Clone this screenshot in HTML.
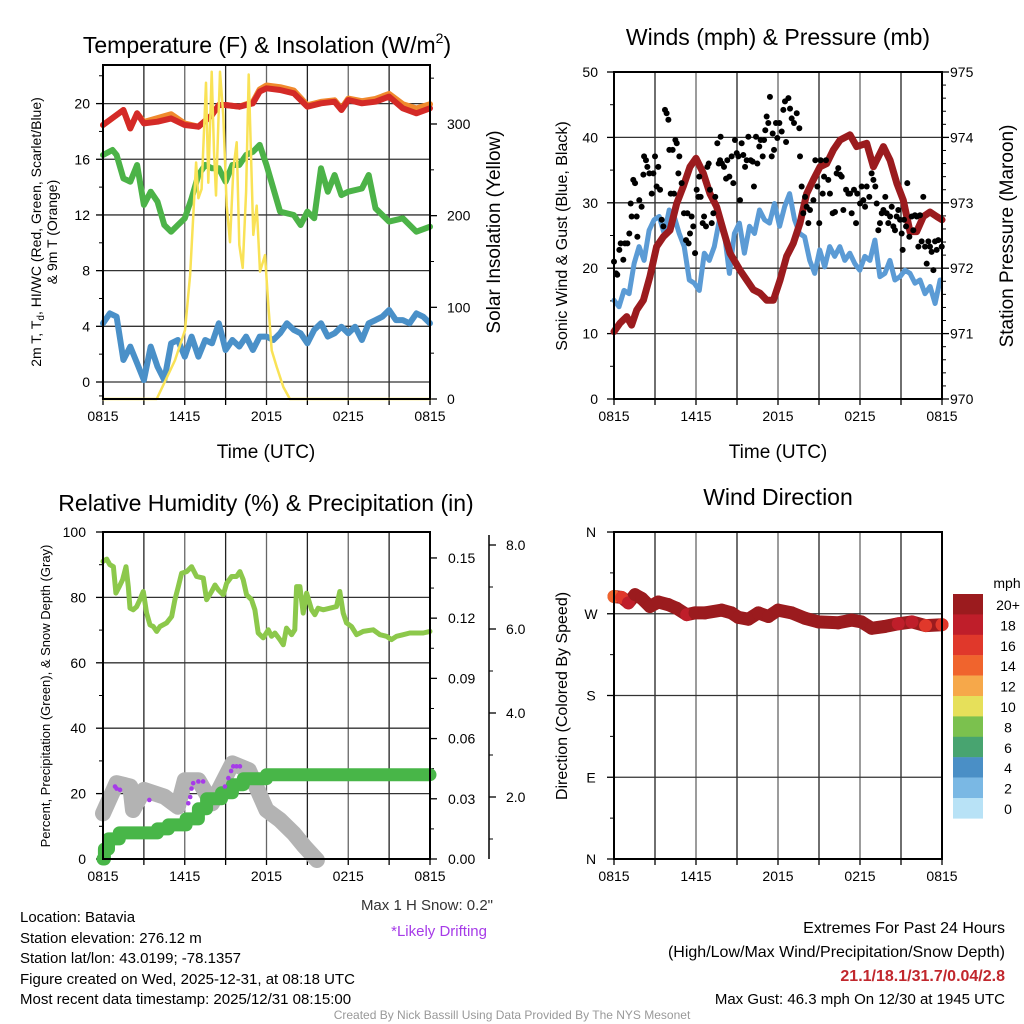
<!DOCTYPE html>
<html><head><meta charset="utf-8"><style>
body{margin:0;background:#fff}
svg{display:block;font-family:"Liberation Sans",Arial,sans-serif}
</style></head><body>
<svg id="chart" width="1024" height="1024" viewBox="0 0 1024 1024" xmlns="http://www.w3.org/2000/svg">
<rect x="0" y="0" width="1024" height="1024" fill="#fff"/>
<text x="267" y="53" font-size="23" text-anchor="middle">Temperature (F) &amp; Insolation (W/m<tspan font-size="14" dy="-10">2</tspan><tspan dy="10">)</tspan></text>
<text x="778" y="45" font-size="23" text-anchor="middle">Winds (mph) &amp; Pressure (mb)</text>
<text x="266" y="511" font-size="23" text-anchor="middle">Relative Humidity (%) &amp; Precipitation (in)</text>
<text x="778" y="505" font-size="23" text-anchor="middle">Wind Direction</text>
<text x="266" y="458" font-size="19" text-anchor="middle">Time (UTC)</text>
<text x="778" y="458" font-size="19" text-anchor="middle">Time (UTC)</text>
<text transform="translate(41,232) rotate(-90)" font-size="14" text-anchor="middle">2m T, T<tspan font-size="10" dy="3">d</tspan><tspan dy="-3">, HI/WC (Red, Green, Scarlet/Blue)</tspan></text>
<text transform="translate(57,232) rotate(-90)" font-size="14" text-anchor="middle">&amp; 9m T (Orange)</text>
<text transform="translate(500,232) rotate(-90)" font-size="19" text-anchor="middle">Solar Insolation (Yellow)</text>
<text transform="translate(567,236) rotate(-90)" font-size="16" text-anchor="middle">Sonic Wind &amp; Gust (Blue, Black)</text>
<text transform="translate(1013,236) rotate(-90)" font-size="19" text-anchor="middle">Station Pressure (Maroon)</text>
<text transform="translate(50,696) rotate(-90)" font-size="13" text-anchor="middle">Percent, Precipitation (Green), &amp; Snow Depth (Gray)</text>
<text transform="translate(567,696) rotate(-90)" font-size="16" text-anchor="middle">Direction (Colored By Speed)</text>
<g font-size="15">
<text x="20" y="922">Location: Batavia</text>
<text x="20" y="943">Station elevation: 276.12 m</text>
<text x="20" y="963">Station lat/lon: 43.0199; -78.1357</text>
<text x="20" y="984">Figure created on Wed, 2025-12-31, at 08:18 UTC</text>
<text x="20" y="1004">Most recent data timestamp: 2025/12/31 08:15:00</text>
</g>
<text x="493" y="910" font-size="15" text-anchor="end" fill="#333">Max 1 H Snow: 0.2"</text>
<text x="487" y="936" font-size="15" text-anchor="end" fill="#a63be8">*Likely Drifting</text>
<g font-size="16" text-anchor="end">
<text x="1005" y="933">Extremes For Past 24 Hours</text>
<text x="1005" y="957">(High/Low/Max Wind/Precipitation/Snow Depth)</text>
<text x="1005" y="981" font-weight="bold" fill="#c1272d">21.1/18.1/31.7/0.04/2.8</text>
<text x="1005" y="1004" font-size="15">Max Gust: 46.3 mph On 12/30 at 1945 UTC</text>
</g>
<text x="512" y="1019" font-size="12" text-anchor="middle" fill="#999">Created By Nick Bassill Using Data Provided By The NYS Mesonet</text>
</svg>
<script>
// ---------- data ----------
const timeLabels = ["0815","1415","2015","0215","0815"];
const tempHours = [0,1,1.5,2,2.5,3,4,5,6,7,8,8.5,9,10,11,11.5,12,13,14,15,16,17,17.5,18,19,20,21,22,23,24];
const tempVals  = [18.46,19.18,19.54,18.22,19.3,18.58,18.7,18.94,18.46,18.34,19.18,19.9,19.9,19.78,20.02,20.86,21.1,20.98,20.74,19.78,20.02,20.14,19.54,20.26,20.02,20.14,20.5,19.66,19.3,19.66];
const nineMOffset = [0,0,0,0,0,0.1,0.25,0.3,0.1,0,0,0,0,0,0.1,0.15,0.2,0.2,0.2,0.1,0.1,0.1,0.1,0.1,0.15,0.2,0.2,0.3,0.35,0.3];
const dewHours = [0,0.7,1,1.5,2,2.5,3,3.5,4,4.5,5,5.5,6,6.5,7,7.5,8,8.5,9,9.5,10,10.5,11,11.5,12,13,14,14.5,15,15.5,16,16.5,17,17.5,18,19,19.5,20,21,22,23,24];
const dewVals = [16.31,16.67,16.31,14.63,14.39,15.59,12.72,13.67,12.95,11.28,10.8,11.28,11.76,13.2,14.87,15.59,15.35,15.35,14.39,15.59,15.59,16.31,16.54,17.03,15.59,12.24,12.0,11.28,12.24,11.76,15.35,13.67,14.87,13.43,13.67,13.9,14.87,12.48,11.52,11.76,10.8,11.16];
const wcHours = [0,0.5,1,1.5,2,2.5,3,3.5,4,4.5,5,5.5,6,6.5,7,7.5,8,8.5,9,9.5,10,10.5,11,11.5,12,12.5,13,13.5,14,14.5,15,15.5,16,16.5,17,17.5,18,18.5,19,19.5,20,20.5,21,21.5,22,22.5,23,23.5,24];
const wcVals = [4.22,4.93,4.69,1.58,2.54,1.34,0.14,2.54,1.1,0.14,2.78,3.02,1.82,3.26,1.82,3.02,2.78,4.22,2.3,3.02,2.54,3.26,2.3,3.26,3.26,3.02,3.5,4.22,3.74,3.5,2.78,3.74,4.22,3.26,3.5,3.97,3.5,3.97,3.02,4.22,4.45,4.69,5.17,4.45,4.45,4.22,4.93,4.69,4.22];
const solarHours = [0,3.94,5.28,6.02,6.39,6.83,7.0,7.24,7.56,7.73,7.98,8.15,8.29,8.59,8.83,9.08,9.32,9.57,9.81,10.0,10.25,10.5,10.69,11.03,11.28,11.52,11.89,12.13,12.38,12.75,13.24,13.72,24];
const solarVals  = [0,0,42,75,135,258,219,229,345,236,357,270,222,357,309,211,171,252,280,168,143,226,354,179,211,139,157,103,53,35,13,0,0];
const windVals = [15.1,14.1,16.6,16.1,20.7,23.3,21.2,25.8,27.4,27.9,25.3,28.9,27.9,25.3,23.3,18.2,17.7,16.6,22.3,21.2,23.3,27.4,25.3,19.2,25.3,26.9,22.3,26.4,25.3,28.9,27.4,26.9,29.9,26.4,29.4,31.4,27.4,25.3,24.8,21.2,19.2,22.8,20.2,23.3,21.8,23.3,21.2,22.3,20.7,19.7,21.8,21.2,24.3,18.7,19.2,21.2,18.2,18.7,19.7,19.2,17.7,18.2,16.1,17.2,14.6,18.2];
const gustHours = [0,.15,.24,.39,.49,.68,.8,.98,1.12,1.22,1.29,1.41,1.54,1.66,1.71,1.85,2.02,2.15,2.2,2.34,2.44,2.59,2.76,2.88,3,3.12,3.24,3.37,3.49,3.61,3.73,3.85,3.98,4.05,4.15,4.29,4.39,4.49,4.59,4.71,4.78,4.95,5.12,5.27,5.37,5.46,5.56,5.68,5.8,5.93,6.05,6.17,6.24,6.34,6.49,6.59,6.73,6.83,6.93,7.02,7.15,7.27,7.41,7.56,7.66,7.76,7.8,7.9,8.05,8.2,8.29,8.44,8.61,8.73,8.85,8.98,9.1,9.22,9.34,9.46,9.59,9.71,9.83,10,10.15,10.24,10.39,10.49,10.63,10.73,10.88,10.98,11.07,11.17,11.29,11.41,11.54,11.61,11.71,11.85,11.95,12.1,12.27,12.39,12.51,12.59,12.76,12.88,13,13.17,13.37,13.56,13.61,13.73,13.85,13.98,14.1,14.22,14.34,14.59,14.73,14.88,15.02,15.12,15.27,15.37,15.51,15.68,15.8,16,16.17,16.29,16.41,16.54,16.66,16.78,16.98,17.15,17.27,17.39,17.56,17.71,17.8,18,18.12,18.24,18.37,18.49,18.68,18.85,18.98,19.12,19.22,19.34,19.46,19.59,19.71,19.85,19.95,20.07,20.2,20.32,20.44,20.56,20.68,20.8,20.93,21.05,21.12,21.22,21.37,21.46,21.61,21.78,21.9,22.02,22.15,22.27,22.39,22.51,22.63,22.76,22.88,23,23.12,23.24,23.37,23.49,23.61,23.73,23.98];
const gustVals = [21,19.2,19,22.8,23.8,21.3,23.8,23.8,25.3,29.9,27.9,33.5,33,27.9,24.8,30.4,29.4,34.3,37.1,36.5,35.5,34.5,31.4,34.5,37.1,32.5,35.5,32,27.4,26.4,44.2,43.7,42.7,38.1,31.4,38.1,31.4,39.6,39.1,34.5,37.1,33,28.4,24.3,28.4,23.8,25.3,27.9,26.4,22.3,32,30.9,34,30.9,26.9,27.9,26.4,35.5,36,32,26.9,28.4,30.9,39.1,36,36.5,40.1,36,35.5,33.7,36.5,34,37.1,33,39.6,37.6,37.1,30.4,39.1,37.3,35.5,36.5,40.1,36.5,36.3,32.5,40.1,36,38.6,39.6,37.1,39.6,41.1,43.2,42.2,46.2,37.1,40.6,38.1,42.2,39.9,42.2,40.9,44.2,45.5,39.3,46,44.4,42.9,42.2,43.7,41.4,37.1,32.5,28.4,30.9,29.4,26.9,28.9,30.4,36.5,32.5,26.9,36.5,31.4,34,36.5,33.5,31.4,28.4,28.6,34.5,35.3,34.3,34,28.9,32,31.4,31.4,28.4,32,26.9,31.4,29.9,32.5,30.4,29.4,32.5,30.9,34.5,33.5,32.5,29.9,25.8,26.9,28.4,28.9,30.9,28.4,26.9,27.9,29.4,26.4,25.8,27.9,28.9,27.4,25.3,22.8,27.4,26.4,33,24.8,27.9,25.8,28.1,27.9,23.3,28.1,24.1,30.9,23.3,20.7,24.1,23.3,22.5,19.7,24.1,22.8,24.3,23.3];
const presHours = [0,.44,.93,1.29,1.66,2.15,2.63,3.12,3.61,4.1,4.59,5.07,5.56,6.0,6.54,7.02,7.51,8.0,8.49,9.22,9.71,10.2,10.68,11.17,11.66,12.15,12.63,13.12,13.61,14.1,14.58,15.07,15.56,16.05,16.54,17.27,17.76,18.49,18.98,19.71,20.2,20.69,21.17,21.66,22.15,22.64,23.12,23.61,24];
const presVals = [971.03,971.16,971.26,971.13,971.36,971.51,971.87,972.33,972.48,972.58,972.99,973.25,973.55,973.68,973.45,973.14,972.94,972.58,972.23,971.97,971.82,971.67,971.62,971.51,971.51,971.82,972.18,972.38,972.69,973.14,973.35,973.55,973.6,973.81,973.96,974.04,973.86,973.91,973.55,973.86,973.65,973.3,973.04,972.56,972.56,972.79,972.86,972.79,972.74];
const rhHours = [0,.27,.51,.76,.95,1.2,1.44,1.69,1.86,1.98,2.22,2.47,2.71,2.96,3.2,3.45,3.69,3.94,4.18,4.67,5.04,5.28,5.53,5.77,6.14,6.5,6.87,7.36,7.6,7.97,8.22,8.46,8.83,9.07,9.44,9.8,10.05,10.29,10.54,10.9,11.15,11.39,11.76,12.13,12.37,12.62,12.98,13.23,13.47,13.84,14.08,14.21,14.45,14.69,14.94,15.31,15.55,15.79,16.16,16.65,17.14,17.38,17.63,17.87,18.24,18.61,19.1,19.83,20.32,20.81,21.17,21.54,22.03,22.52,23.5,24];
const rhVals = [91,91.7,90,89.4,81.3,83.3,85.4,89.4,83.3,76.7,76.2,77.2,79.3,81.8,75.2,71.6,71.1,69.6,71.1,72.2,74.2,79.3,83.3,87.4,87.9,89.4,86.4,85.9,79.3,81.8,83.8,82.3,80.8,84.3,86.4,86.4,87.9,85.4,80.8,79.3,76.2,69.1,67.6,70.1,68.1,69.1,67.1,65.5,70.6,68.6,70.1,83.3,83.3,75.2,81.3,76.2,74.7,76.7,76.2,76.7,77.2,81.8,75.2,72.2,71.1,68.6,69.6,70.1,68.6,68.1,67.1,68.1,68.6,69.1,69.1,69.6];
const precipHours = [0,0.1,0.4,1.2,4.0,4.8,6.1,7.0,7.6,8.7,9.5,10.3,12.0,24];
const precipVals = [0,0.005,0.01,0.013,0.015,0.017,0.02,0.025,0.03,0.033,0.037,0.04,0.042,0.042];
const snowHours = [0,1,2,2.2,3,4.5,5.5,6,7,8,9.5,10.7,12,13,14,14.8,15.7];
const snowVals = [1.61,2.33,2.25,1.69,2.17,2.01,1.77,2.4,2.4,1.85,2.8,2.64,1.69,1.45,1.13,0.82,0.5];
const driftHours = [0.88,1.0,1.25,3.4,6.26,6.4,6.5,6.62,7.0,7.35,8.95,9.2,9.4,9.56,9.8,10.05];
const driftVals = [2.25,2.2,2.17,1.93,1.85,2.0,2.2,2.33,2.37,2.37,2.25,2.45,2.62,2.73,2.73,2.73];
const dirHours = [0,.56,1.05,1.54,2.02,2.63,3.24,3.98,4.59,5.32,5.93,6.66,7.88,8.6,9.1,9.83,10.56,11.3,12.0,13,13.98,14.95,16.4,17.4,18.1,18.85,19.8,20.8,21.8,22.8,24];
const dirVals = [289,288,282,291,287,278,283,280,276,269,271,271,274,271,266,264,271,267,274,271,265,261,260,263,261,254,256,259,261,257,258];
const dirSpeeds = [14,16,18,20,20,20,20,20,20,18,20,20,20,20,20,20,20,20,20,20,20,20,20,20,20,20,20,18,18,16,16];
const cbLabels = ["20+","18","16","14","12","10","8","6","4","2","0"];
const cbColors = ["#9b1b1e","#bf1e2a","#e0382b","#f0642d","#f6a84a","#e6e05a","#7bc14e","#48a470","#4a8fc6","#7ab8e4","#b8e2f6"];

// ---------- scales ----------
const NS = "http://www.w3.org/2000/svg";
const svg = document.getElementById('chart');
function mk(tag, attrs, parent){const e=document.createElementNS(NS,tag);for(const k in attrs)e.setAttribute(k,attrs[k]);(parent||svg).appendChild(e);return e;}
const xL = h => 103 + h*13.625;
const xR = h => 614 + h*13.667;
const yTemp = v => 382 - v*13.92;
const ySolar = w => 399 - w*0.9167;
const yWind = v => 399 - v*6.54;
const yPres = p => 399 - (p-970)*65.4;
const yPct = p => 859 - p*3.27;
const yPrecip = v => 859 - v*2007;
const ySnow = s => 881 - s*42;
const yDir = d => 859 - d*0.9083;
function pts(hs, vs, fx, fy){return hs.map((h,i)=>fx(h).toFixed(1)+','+fy(vs[i]).toFixed(1)).join(' ');}

// ---------- frames & grids ----------
function panel(name, x0, x1, y0, y1, hGrid){
  const g = mk('g', {});
  
  
  for(let i=1;i<8;i++){
    const x = x0 + (x1-x0)*i/8;
    const l = mk('line',{x1:x,x2:x,y1:y0,y2:y1,stroke:i%2?'#222':'#666','stroke-width':1.3},g);
    
    
  }
  hGrid.forEach(y=>{
    const l = mk('line',{x1:x0,x2:x1,y1:y,y2:y,stroke:'#333','stroke-width':1.3},g);
    
    
  });
  for(let i=0;i<=8;i++){
    const x = x0 + (x1-x0)*i/8;
    const t = mk('line',{x1:x,x2:x,y1:y1,y2:y1+6,stroke:'#000','stroke-width':1.3},g);
    
    
  }
  timeLabels.forEach((s,i)=>{
    const t = mk('text',{x:x0+(x1-x0)*i/4,y:y1+22,'font-size':14,'text-anchor':'middle'},g);
    t.textContent = s;
    
    
  });
  return g;
}
function frame(name,x0,x1,y0,y1){
  const r = mk('rect',{x:x0,y:y0,width:x1-x0,height:y1-y0,fill:'none',stroke:'#000','stroke-width':2});
  
  
}
function yTicks(name, vals, labels, fy, xAxis, side, labelX, anchor, minorVals){
  vals.forEach((v,i)=>{
    const y = fy(v);
    const t = mk('line',{x1:xAxis,x2:xAxis+side*7,y1:y,y2:y,stroke:'#000','stroke-width':1.3});
    
    
    const tx = mk('text',{x:labelX,y:y+5,'font-size':14,'text-anchor':anchor});
    tx.textContent = labels[i];
    
    
  });
  (minorVals||[]).forEach(v=>{
    const y = fy(v);
    const t = mk('line',{x1:xAxis,x2:xAxis+side*4,y1:y,y2:y,stroke:'#000','stroke-width':1});
    
    
  });
}

const tempTicks=[0,4,8,12,16,20];
panel('temp',103,430,65,399,tempTicks.map(yTemp));
yTicks('temp-y',tempTicks,tempTicks.map(String),yTemp,103,-1,90,'end',[-1,2,6,10,14,18,22]);
yTicks('solar-y',[0,100,200,300],["0","100","200","300"],ySolar,430,1,447,'start',[50,150,250,350]);
const windTicks=[0,10,20,30,40,50];
panel('wind',614,942,72,399,windTicks.map(yWind));
yTicks('wind-y',windTicks,windTicks.map(String),yWind,614,-1,598,'end',[5,15,25,35,45]);
const presTicks=[970,971,972,973,974,975];
yTicks('pressure-y',presTicks,presTicks.map(String),yPres,942,1,950,'start',[970.2,970.4,970.6,970.8,971.2,971.4,971.6,971.8,972.2,972.4,972.6,972.8,973.2,973.4,973.6,973.8,974.2,974.4,974.6,974.8]);
const pctTicks=[0,20,40,60,80,100];
panel('rh',103,430,532,859,pctTicks.map(yPct));
yTicks('rh-y',pctTicks,pctTicks.map(String),yPct,103,-1,86,'end',[10,30,50,70,90]);
const precTicks=[0,0.03,0.06,0.09,0.12,0.15];
yTicks('precip-y',precTicks,precTicks.map(v=>v.toFixed(2)),yPrecip,430,1,448,'start',[0.015,0.045,0.075,0.105,0.135]);
const snowAx = mk('line',{x1:489,x2:489,y1:535,y2:859,stroke:'#000','stroke-width':1.5});


yTicks('snow-y',[2,4,6,8],["2.0","4.0","6.0","8.0"],ySnow,489,1,506,'start',[1,3,5,7]);
const dirTicks=[0,90,180,270,360];
panel('dir',614,942,532,859,dirTicks.map(yDir));
yTicks('dir-y',dirTicks,["N","E","S","W","N"],yDir,614,-1,591,'middle',[45,135,225,315]);

// ---------- series ----------
function line(hs,vs,fx,fy,color,w,name){
  const p = mk('polyline',{points:pts(hs,vs,fx,fy),fill:'none',stroke:color,'stroke-width':w,'stroke-linejoin':'round','stroke-linecap':'round'});
  
  
  return p;
}
line(tempHours,tempVals.map((v,i)=>v+nineMOffset[i]),xL,yTemp,'#f08a2e',6,'nine-m-temp-line');
line(tempHours,tempVals,xL,yTemp,'#d42a27',6,'temp-line');
line(dewHours,dewVals,xL,yTemp,'#4cb348',6,'dewpoint-line');
line(wcHours,wcVals,xL,yTemp,'#4a90c8',6,'windchill-line');
line(solarHours,solarVals,xL,ySolar,'#f9e256',2.5,'solar-line');

const windHours = windVals.map((v,i)=>i*23.86/(windVals.length-1));
line(windHours,windVals,xR,yWind,'#5b9bd5',5,'wind-line');
line(presHours,presVals,xR,yPres,'#9b1b1e',7,'pressure-line');
gustVals.forEach((v,i)=>{
  const c = mk('circle',{cx:xR(gustHours[i]),cy:yWind(v),r:3,fill:'#000'});
  
  
});

line(rhHours,rhVals,xL,yPct,'#8cc84b',5,'rh-line');
line(snowHours,snowVals,xL,ySnow,'#b3b3b3',16,'snow-depth-line');
let stepPts=[];
precipHours.forEach((h,i)=>{ if(i>0) stepPts.push(xL(h).toFixed(1)+','+yPrecip(precipVals[i-1]).toFixed(1)); stepPts.push(xL(h).toFixed(1)+','+yPrecip(precipVals[i]).toFixed(1)); });
const pl = mk('polyline',{points:stepPts.join(' '),fill:'none',stroke:'#48b648','stroke-width':13,'stroke-linejoin':'round','stroke-linecap':'round'});


driftVals.forEach((v,i)=>{
  const c = mk('circle',{cx:xL(driftHours[i]),cy:ySnow(v),r:2.3,fill:'#a63be8'});
  
  
});

line(dirHours,dirVals,xR,yDir,'#9b1b1e',13,'direction-line');
dirVals.forEach((v,i)=>{
  const c = mk('circle',{cx:xR(dirHours[i]),cy:yDir(v),r:6.5,fill:cbColors[Math.max(0,Math.min(10,10-Math.floor(dirSpeeds[i]/2)))]});
  
  
});

frame('temp',103,430,65,399);
frame('wind',614,942,72,399);
frame('rh',103,430,532,859);
frame('dir',614,942,532,859);

const mph = mk('text',{x:1007,y:588,'font-size':14,'text-anchor':'middle'});
mph.textContent='mph';


cbColors.forEach((c,i)=>{
  const r = mk('rect',{x:953,y:594+i*20.4,width:30,height:20.6,fill:c});
  
  
  const t = mk('text',{x:1008,y:610+i*20.4,'font-size':14,'text-anchor':'middle'});
  t.textContent = cbLabels[i];
  
  
});
</script>
</body></html>
